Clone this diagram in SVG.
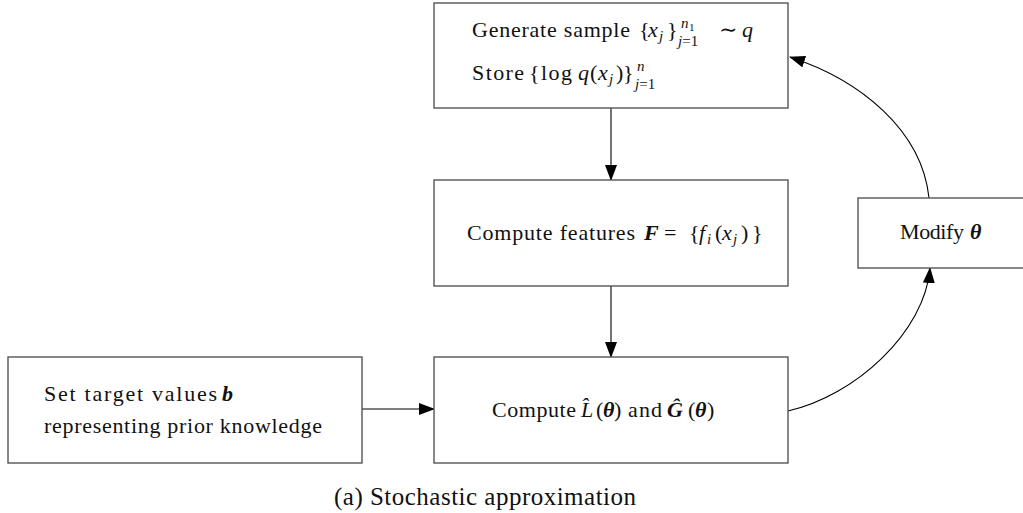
<svg xmlns="http://www.w3.org/2000/svg" width="1023" height="513" viewBox="0 0 1023 513">
<style>
.box{fill:#fff;stroke:#555;stroke-width:1.4}
.t{font-family:"Liberation Serif","DejaVu Serif",serif;font-size:22px;fill:#111}
.s{font-size:15px}
.ss{font-size:11px}
.i{font-style:italic}
.bi{font-style:italic;font-weight:bold}
.cap{font-family:"Liberation Serif","DejaVu Serif",serif;font-size:25px;fill:#111}
.edge{fill:none;stroke:#000;stroke-width:1.1}
</style>
<defs>
<marker id="ah" markerWidth="16" markerHeight="12" refX="15" refY="6" orient="auto" markerUnits="userSpaceOnUse">
<path d="M0,0 L16,6 L0,12 Z" fill="#000"/>
</marker>
</defs>
<g id="connectors">
<line class="edge" x1="611" y1="108" x2="611" y2="180" marker-end="url(#ah)"/>
<line class="edge" x1="611" y1="286" x2="611" y2="357" marker-end="url(#ah)"/>
<line class="edge" x1="362" y1="409" x2="434" y2="409" marker-end="url(#ah)"/>
<path class="edge" d="M788,411 C855,396 925,332 930,268" marker-end="url(#ah)"/>
<path class="edge" d="M929,198 C922,130 860,80 790,57" marker-end="url(#ah)"/>
</g>
<g id="generate">
<rect class="box" x="434" y="3" width="354" height="105"/>
<text class="t" y="37"><tspan x="472" textLength="158">Generate sample</tspan><tspan x="639">{</tspan><tspan x="648" class="i">x</tspan><tspan x="659" y="41" class="s i">j</tspan><tspan x="667" y="37">}</tspan><tspan x="681" y="28" class="s i">n</tspan><tspan x="689" y="31" class="ss">1</tspan><tspan x="678" y="46" class="s"><tspan class="i">j</tspan>=1</tspan><tspan x="719" y="37">∼</tspan><tspan x="742" class="i">q</tspan></text>
<text class="t" y="80"><tspan x="472" textLength="52">Store</tspan><tspan x="529">{</tspan><tspan x="541" textLength="31">log</tspan><tspan x="578" class="i">q</tspan><tspan x="590">(</tspan><tspan x="598" class="i">x</tspan><tspan x="609" y="84" class="s i">j</tspan><tspan x="616" y="80">)</tspan><tspan x="623">}</tspan><tspan x="637" y="71" class="s i">n</tspan><tspan x="635" y="89" class="s"><tspan class="i">j</tspan>=1</tspan></text>
</g>
<g id="features">
<rect class="box" x="434" y="180" width="354" height="106"/>
<text class="t" y="240"><tspan x="467" textLength="168">Compute features</tspan><tspan x="644" class="bi">F</tspan><tspan x="664">=</tspan><tspan x="689">{</tspan><tspan x="699" class="i">f</tspan><tspan x="707" y="244" class="s i">i</tspan><tspan x="715" y="240">(</tspan><tspan x="722" class="i">x</tspan><tspan x="733" y="244" class="s i">j</tspan><tspan x="741" y="240">)</tspan><tspan x="752">}</tspan></text>
</g>
<g id="compute">
<rect class="box" x="434" y="357" width="354" height="106"/>
<text class="t" y="417"><tspan x="492" textLength="84">Compute</tspan><tspan x="581" class="i">L&#770;</tspan><tspan x="596">(</tspan><tspan x="603" class="bi">θ</tspan><tspan x="614">)</tspan><tspan x="628" textLength="34">and</tspan><tspan x="667" class="bi">G&#770;</tspan><tspan x="688">(</tspan><tspan x="695" class="bi">θ</tspan><tspan x="707">)</tspan></text>
</g>
<g id="target">
<rect class="box" x="8" y="357" width="354" height="106"/>
<text class="t" y="401"><tspan x="44" textLength="173">Set target values</tspan><tspan x="222" class="bi">b</tspan></text>
<text class="t" x="44" y="433" textLength="278">representing prior knowledge</text>
</g>
<g id="modify">
<rect class="box" x="858" y="198" width="170" height="70"/>
<text class="t" y="239"><tspan x="900" textLength="64">Modify</tspan><tspan x="970" class="bi">θ</tspan></text>
</g>
<text class="cap" x="334" y="505" textLength="302">(a) Stochastic approximation</text>
</svg>
